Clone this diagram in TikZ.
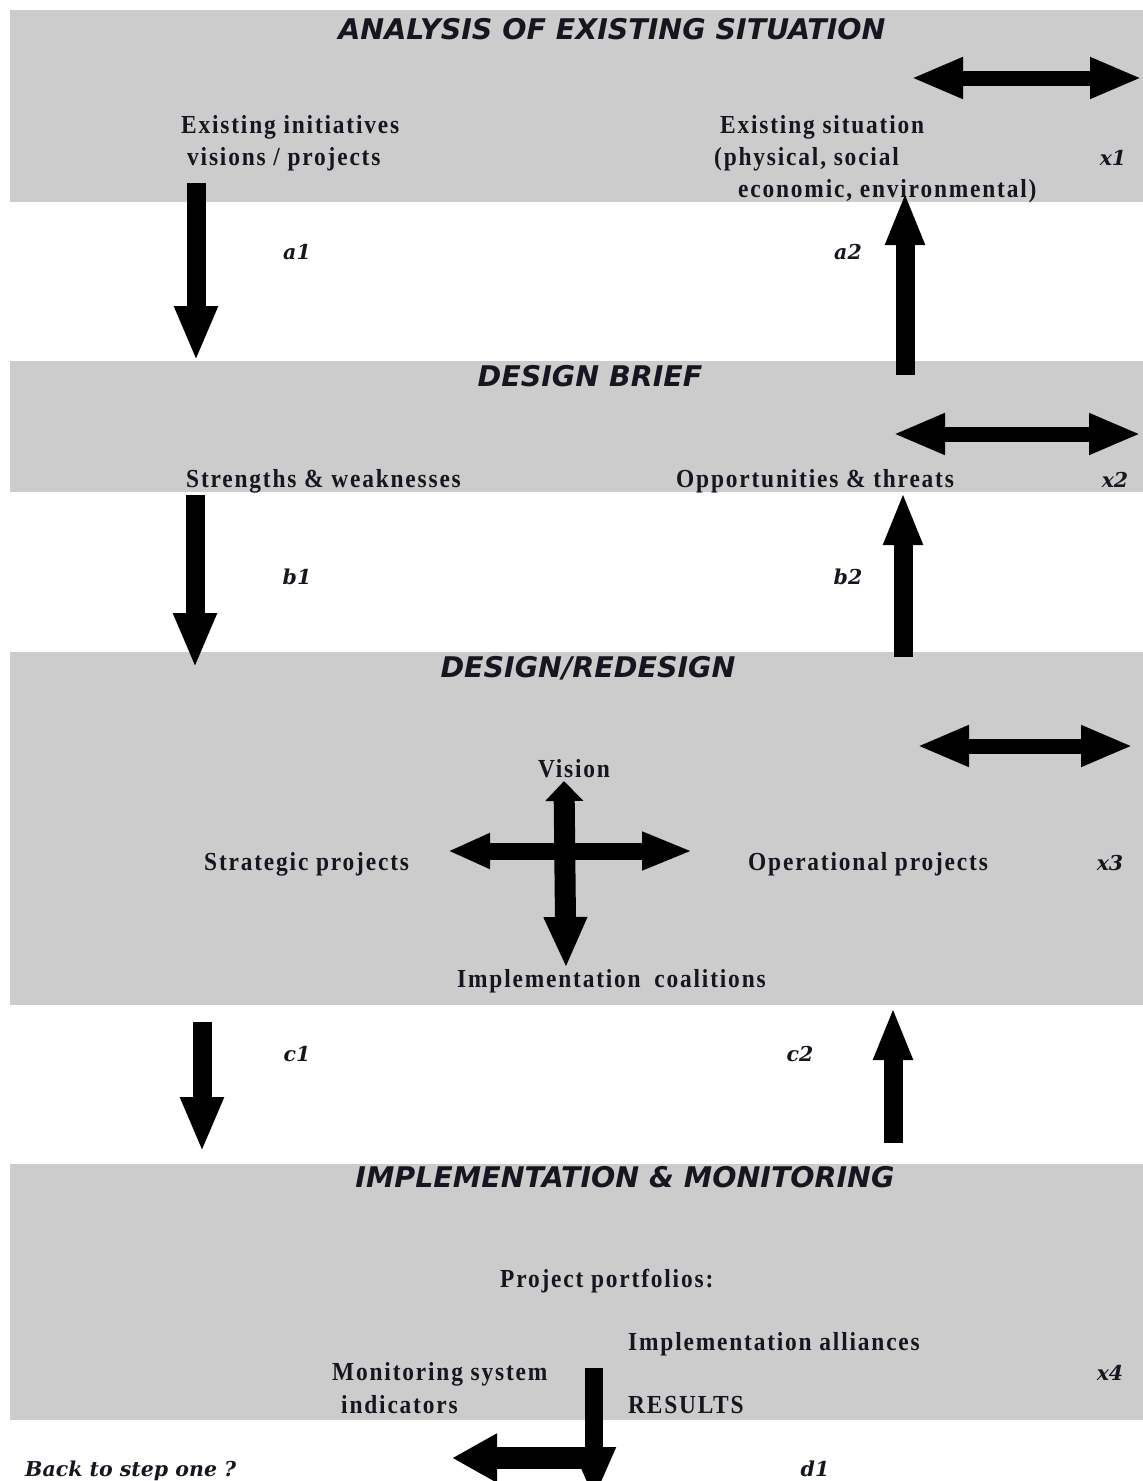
\documentclass[tikz,border=0pt]{standalone}
\usepackage{fontspec}
\usetikzlibrary{arrows.meta}
\setmainfont{Liberation Serif}
\newfontfamily\titlef{DejaVu Sans}
\newfontfamily\bodyf{Liberation Serif}[LetterSpace=7,FakeStretch=0.9]
\newfontfamily\labf{DejaVu Serif}
\definecolor{bandgray}{RGB}{204,204,204}
\definecolor{ink}{RGB}{22,22,32}
\tikzset{
  band/.style={fill=bandgray, draw=none, inner sep=0pt, minimum width=1133pt},
  ttl/.style={font=\titlef\bfseries\itshape\fontsize{28.5}{32}\selectfont, text=ink, inner sep=0pt, anchor=base},
  txt/.style={font=\bodyf\bfseries\fontsize{26}{29}\selectfont, text=ink, inner sep=0pt, anchor=base west},
  lbl/.style={font=\labf\bfseries\itshape\fontsize{20.5}{24}\selectfont, text=ink, inner sep=0pt, anchor=base},
  flowarrow/.style={draw=black, line width=19pt, -{Triangle[width=40pt,length=55pt]}},
  sidearrow/.style={draw=black, line width=15pt, {Triangle[width=38pt,length=52pt]}-{Triangle[width=38pt,length=52pt]}},
  crossh/.style={draw=black, line width=17pt, {Triangle[width=33pt,length=42pt]}-{Triangle[width=35pt,length=51pt]}},
  crossv/.style={draw=black, line width=21pt, {Triangle[width=37pt,length=20pt]}-{Triangle[width=40pt,length=51pt]}},
}
\begin{document}
\begin{tikzpicture}[x=1pt,y=-1pt]
\useasboundingbox (0,0) rectangle (1143,1481);
\fill[white] (0,0) rectangle (1143,1481);
% bands
\node[band, minimum height=192pt] (B1) at (576.5,106) {};
\node[band, minimum height=131pt] (B2) at (576.5,426.5) {};
\node[band, minimum height=353pt] (B3) at (576.5,828.5) {};
\node[band, minimum height=256pt] (B4) at (576.5,1292) {};
% titles
\node[ttl] (t1) at (612,39) {ANALYSIS OF EXISTING SITUATION};
\node[ttl] (t2) at (590,386) {DESIGN BRIEF};
\node[ttl] (t3) at (588,677) {DESIGN/REDESIGN};
\node[ttl] (t4) at (625,1187) {IMPLEMENTATION \& MONITORING};
% band 1 texts
\node[txt] (ei1) at (181,133) {Existing initiatives};
\node[txt] (ei2) at (187,165) {visions / projects};
\node[txt] (es1) at (720,133) {Existing situation};
\node[txt] (es2) at (714,165) {(physical, social};
\node[txt] (es3) at (738,197) {economic, environmental)};
\node[lbl] (x1) at (1113,165) {x1};
% band 2 texts
\node[txt] (sw) at (186,487) {Strengths \& weaknesses};
\node[txt] (ot) at (676,487) {Opportunities \& threats};
\node[lbl] (x2) at (1115,487) {x2};
% band 3 texts
\node[txt, anchor=base] (vis) at (574,777) {Vision};
\node[txt] (sp) at (204,870) {Strategic projects};
\node[txt] (op) at (748,870) {Operational projects};
\node[lbl] (x3) at (1110,870) {x3};
\node[txt] (ic) at (457,987) {Implementation\hspace{6pt} coalitions};
% band 4 texts
\node[txt] (pp) at (500,1287) {Project portfolios:};
\node[txt] (ia) at (628,1350) {Implementation alliances};
\node[txt] (ms1) at (332,1380) {Monitoring system};
\node[txt] (ms2) at (341,1413) {indicators};
\node[txt] (res) at (628,1413) {RESULTS};
\node[lbl] (x4) at (1110,1380) {x4};
% between-band labels
\node[lbl] (la1) at (297,259) {a1};
\node[lbl] (la2) at (848,259) {a2};
\node[lbl] (lb1) at (297,584) {b1};
\node[lbl] (lb2) at (848,584) {b2};
\node[lbl] (lc1) at (297,1061) {c1};
\node[lbl] (lc2) at (800,1061) {c2};
\node[lbl] (ld1) at (815,1476) {d1};
\node[lbl, anchor=base west] (back) at (25,1476) {Back to step one ?};
% arrow end points
\coordinate (a1s) at (196,183);  \coordinate (a1e) at (196,361);
\coordinate (b1s) at (195,495);  \coordinate (b1e) at (195,668);
\coordinate (c1s) at (202,1022); \coordinate (c1e) at (202,1152);
\coordinate (a2s) at (905,375);  \coordinate (a2e) at (905,192);
\coordinate (b2s) at (903,657);  \coordinate (b2e) at (903,492);
\coordinate (c2s) at (893,1143); \coordinate (c2e) at (893,1007);
\coordinate (x1l) at (911,78);   \coordinate (x1r) at (1142,78);
\coordinate (x2l) at (893,434);  \coordinate (x2r) at (1141,434);
\coordinate (x3l) at (917,746);  \coordinate (x3r) at (1133,746);
\coordinate (chl) at (448,851);  \coordinate (chr) at (693,851);
\coordinate (cvt) at (564,781);  \coordinate (cvb) at (566,968);
\coordinate (d1s) at (594,1368); \coordinate (d1e) at (594,1500);
\coordinate (bks) at (603,1458); \coordinate (bke) at (452,1458);
% arrows
\draw[flowarrow] (a1s) -- (a1e);
\draw[flowarrow] (b1s) -- (b1e);
\draw[flowarrow] (c1s) -- (c1e);
\draw[flowarrow, -{Triangle[width=36pt,length=53pt]}] (a2s) -- (a2e);
\draw[flowarrow, -{Triangle[width=36pt,length=53pt]}] (b2s) -- (b2e);
\draw[flowarrow, -{Triangle[width=36pt,length=53pt]}] (c2s) -- (c2e);
\draw[sidearrow] (x1l) -- (x1r);
\draw[sidearrow] (x2l) -- (x2r);
\draw[sidearrow] (x3l) -- (x3r);
\draw[crossh] (chl) -- (chr);
\draw[crossv] (cvt) -- (cvb);
\begin{scope}
\clip (0,0) rectangle (1143,1481);
\draw[draw=black, line width=18pt, -{Triangle[width=40pt,length=53pt]}] (d1s) -- (d1e);
\draw[draw=black, line width=22pt, -{Triangle[width=46pt,length=45pt]}] (bks) -- (bke);
\end{scope}
\end{tikzpicture}
\end{document}
